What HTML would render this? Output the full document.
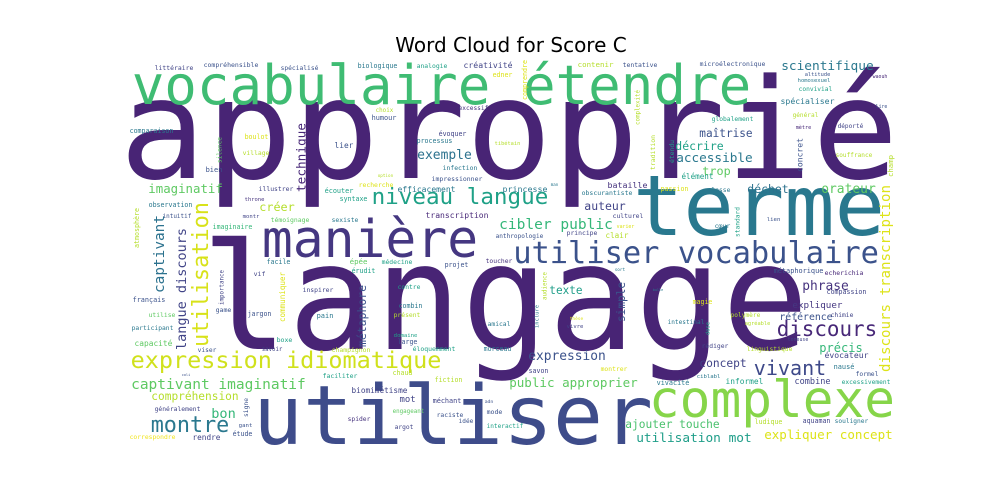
<!DOCTYPE html>
<html><head><meta charset="utf-8"><style>
html,body{margin:0;padding:0;background:#fff;width:1000px;height:500px;overflow:hidden}
svg{display:block}
</style></head><body>
<svg id="cloud" width="1000" height="500" viewBox="0 0 1000 500" xmlns="http://www.w3.org/2000/svg">
<rect width="1000" height="500" fill="#fff"/>
<text x="511" y="52" text-anchor="middle" font-family="DejaVu Sans, Liberation Sans, sans-serif" font-size="20" fill="#000">Word Cloud for Score C</text>
<g id="words" font-family="DejaVu Sans Mono, Liberation Mono, monospace"></g>
</svg>
<script>
// horizontal: [text, x1, x2, baseline, color, optional font size]
const hWords = [
["approprié",128,890,178,"#482475",139],
["langage",210,800,349,"#482475",148],
["utiliser",258,648,444,"#3e4c8a",82],
["vocabulaire étendre",135,748,104,"#3fbc73"],
["terme",638,880,235,"#29788e"],
["complexe",652,892,417,"#86d549"],
["manière",265,475,257,"#453781"],
["utiliser vocabulaire",515,877,263,"#3b528b"],
["niveau langue",373,547,204,"#1fa187"],
["expression idiomatique",132,440,368,"#d0e11c"],
["captivant imaginatif",132,305,389,"#5ec962"],
["compréhension",152,238,400,"#b5de2b"],
["montre",152,228,432,"#2a788e"],
["bon",212,235,418,"#35b779"],
["rendre",193,220,440,"#414487"],
["expression",529,605,360,"#3b528b"],
["public approprier",510,637,387,"#5ec962"],
["ajouter touche",626,719,428,"#4ac16d"],
["utilisation mot",637,751,442,"#1f9e89"],
["expliquer concept",765,892,439,"#dde318"],
["vivant",755,825,375,"#3e4989"],
["discours",778,876,336,"#482878"],
["précis",820,862,352,"#35b779"],
["concept",700,746,367,"#414487"],
["référence",780,832,320,"#3b528b"],
["expliquer",793,842,308,"#453781"],
["phrase",803,848,290,"#46337e"],
["texte",550,582,294,"#1f9e89"],
["exemple",418,471,159,"#2c728e"],
["imaginatif",149,222,193,"#5ec962"],
["créer",260,294,211,"#b5de2b"],
["cibler public",500,612,229,"#35b779"],
["auteur",585,625,210,"#414487"],
["accessible",677,752,162,"#2a788e"],
["scientifique",782,873,70,"#2a788e"],
["maîtrise",700,752,137,"#3b528b"],
["décrire",676,723,150,"#1fa187"],
["orateur",822,875,193,"#5ec962"],
["déchet",748,788,193,"#2c728e"],
["trop",703,730,175,"#5ec962"],
["spécialiser",781,834,104,"#2a788e"],
["littéraire",155,193,70,"#414487"],
["compréhensible",204,258,67,"#3b528b"],
["spécialisé",281,318,70,"#3b528b"],
["biologique",358,397,68,"#2a788e"],
["analogie",417,447,68,"#1fa187"],
["créativité",464,512,68,"#414487"],
["edner",493,512,77,"#dde318"],
["excessif",459,488,110,"#46337e"],
["choix",376,393,112,"#b5de2b"],
["humour",372,396,120,"#3b528b"],
["comparaison",130,173,133,"#2a788e"],
["boulot",245,268,139,"#dde318"],
["évoquer",439,466,136,"#414487"],
["processus",417,452,143,"#2a788e"],
["lier",335,353,148,"#3b528b"],
["village",243,269,155,"#b5de2b"],
["tibétain",495,520,145,"#b5de2b"],
["bien",206,222,172,"#3b528b"],
["infection",443,477,170,"#2a788e"],
["option",378,393,177,"#b5de2b"],
["impressionner",432,482,181,"#3b528b"],
["recherche",359,393,187,"#dde318"],
["illustrer",259,293,191,"#414487"],
["efficacement",398,455,192,"#2a788e"],
["écouter",325,353,193,"#1fa187"],
["throne",245,264,201,"#46337e"],
["syntaxe",340,367,201,"#1fa187"],
["observation",149,192,207,"#2a788e"],
["intuitif",163,191,218,"#3b528b"],
["montr",243,259,218,"#414487"],
["témoignage",271,309,222,"#5ec962"],
["sexiste",332,358,222,"#2a788e"],
["transcription",426,488,218,"#482878"],
["imaginaire",213,252,229,"#35b779"],
["princesse",503,547,192,"#2a788e"],
["man",551,558,186,"#2a788e"],
["obscurantiste",582,632,195,"#2a788e"],
["bataille",608,647,188,"#46337e"],
["passion",661,688,191,"#dde318"],
["élément",682,713,179,"#1fa187"],
["classe",708,730,192,"#2a788e"],
["culturel",613,643,218,"#414487"],
["varier",617,634,228,"#dde318"],
["principe",567,597,235,"#414487"],
["clair",606,628,238,"#b5de2b"],
["anthropologie",496,543,238,"#3b528b"],
["contenir",578,613,67,"#b5de2b"],
["tentative",623,657,67,"#3b528b"],
["microélectronique",700,765,66,"#3b528b"],
["altitude",805,830,76,"#3b528b"],
["homosexuel",798,830,82,"#2a788e"],
["convivial",799,832,91,"#1fa187"],
["waouh",873,887,78,"#482878"],
["lire",876,887,108,"#3b528b"],
["général",793,818,117,"#b5de2b"],
["globalement",712,753,121,"#1fa187"],
["mètre",796,811,129,"#482878"],
["déporté",838,863,128,"#414487"],
["souffrance",836,872,157,"#b5de2b"],
["cœur",715,730,228,"#2a788e"],
["lien",767,780,221,"#3b528b"],
["facile",267,290,264,"#2a788e"],
["épée",350,367,264,"#5ec962"],
["médecine",382,412,264,"#1fa187"],
["projet",445,468,267,"#3b528b"],
["toucher",486,512,263,"#46337e"],
["vif",254,265,276,"#414487"],
["érudit",352,375,273,"#1fa187"],
["inspirer",303,333,292,"#414487"],
["contre",398,420,289,"#1fa187"],
["français",133,165,302,"#3b528b"],
["game",216,231,312,"#3b528b"],
["jargon",248,271,316,"#3b528b"],
["pain",317,333,318,"#2a788e"],
["combin",399,422,308,"#2a788e"],
["présent",394,420,317,"#b5de2b"],
["utilise",149,175,317,"#5ec962"],
["participant",132,173,330,"#2a788e"],
["amical",488,510,326,"#2a788e"],
["boxe",277,292,342,"#1fa187"],
["domaine",394,417,337,"#1fa187"],
["capacité",135,172,346,"#5ec962"],
["viser",198,216,352,"#3b528b"],
["savoir",262,282,351,"#414487"],
["champignon",332,370,352,"#b5de2b"],
["large",398,417,344,"#3b528b"],
["éloquemment",413,455,351,"#1fa187"],
["morceau",484,511,351,"#2a788e"],
["coli",182,190,376,"#3b528b"],
["faciliter",323,357,378,"#1fa187"],
["chaud",393,412,375,"#b5de2b"],
["fiction",435,462,382,"#b5de2b"],
["biomimétisme",352,407,393,"#414487"],
["mot",400,415,402,"#414487"],
["méchant",433,461,403,"#414487"],
["adn",485,493,403,"#3b528b"],
["généralement",155,200,411,"#414487"],
["engageant",393,424,413,"#5ec962"],
["raciste",437,463,417,"#3b528b"],
["mode",487,502,414,"#3b528b"],
["gant",239,252,427,"#3b528b"],
["spider",348,370,421,"#46337e"],
["idée",459,473,423,"#3b528b"],
["argot",395,413,429,"#414487"],
["interactif",487,523,428,"#1fa187"],
["étude",233,252,436,"#3b528b"],
["correspondre",130,175,439,"#f1e51d"],
["sort",615,625,271,"#2a788e"],
["métaphorique",774,823,273,"#3b528b"],
["echerichia",825,863,275,"#482878"],
["bulle",653,663,291,"#2a788e"],
["compassion",827,866,294,"#414487"],
["magie",693,712,304,"#dde318"],
["polymère",731,760,317,"#b5de2b"],
["chimie",831,853,317,"#414487"],
["thèse",570,583,320,"#dde318"],
["vivre",567,583,328,"#414487"],
["intestinal",668,704,324,"#2a788e"],
["agréable",745,770,325,"#b5de2b"],
["toneuse",788,808,341,"#414487"],
["rédiger",702,728,348,"#414487"],
["linguistique",747,792,351,"#b5de2b"],
["évocateur",825,868,358,"#414487"],
["montrer",601,627,371,"#dde318"],
["savon",529,548,373,"#414487"],
["nausé",834,854,369,"#2a788e"],
["ciblabl",697,720,378,"#2a788e"],
["formel",856,878,376,"#3b528b"],
["informel",726,763,384,"#1fa187"],
["combine",795,830,384,"#414487"],
["vivacité",657,689,385,"#2a788e"],
["excessivement",842,890,384,"#1fa187"],
["ludique",755,782,424,"#b5de2b"],
["aquaman",803,830,423,"#414487"],
["souligner",835,868,423,"#2a788e"]
];
// vertical (reads bottom-to-top): [text, xCenter, yBottom, yTop, color]
const vWords = [
["langue discours",182,350,228,"#414487"],
["utilisation",202,347,202,"#d8e219"],
["captivant",160,293,215,"#2c728e"],
["technique",302,192,123,"#482878"],
["métaphore",363,347,285,"#3b528b"],
["simple",622,322,282,"#3b528b"],
["discours transcription",886,372,185,"#dde318"],
["silence",220,163,137,"#5ec962"],
["atmosphère",137,248,208,"#b5de2b"],
["comprendre",525,100,60,"#dde318"],
["complexité",638,125,90,"#b5de2b"],
["concret",800,172,138,"#3b528b"],
["étendu",672,163,140,"#1fa187"],
["tradition",653,170,135,"#b5de2b"],
["champ",891,177,155,"#b5de2b"],
["standard",738,237,207,"#1fa187"],
["importance",222,305,270,"#414487"],
["communiquer",283,322,272,"#dde318"],
["signe",246,417,398,"#3b528b"],
["audience",545,300,272,"#b5de2b"],
["inclure",537,328,305,"#2a788e"],
["dose",708,335,322,"#1fa187"]
];
const NS = "http://www.w3.org/2000/svg";
const g = document.getElementById("words");
hWords.forEach(w => {
  const [t,x1,x2,y,c,sz] = w;
  const n = t.length;
  const inkW = x2 - x1;
  const adv = inkW / (n - 0.2);
  const fs = sz ? sz : adv / 0.602;
  const el = document.createElementNS(NS,"text");
  
  
  el.setAttribute("x", (x1 - 0.1*adv).toFixed(1));
  el.setAttribute("y", y);
  el.setAttribute("font-size", fs.toFixed(2));
  el.setAttribute("fill", c);
  el.setAttribute("textLength", (adv*n).toFixed(1));
  el.setAttribute("lengthAdjust", "spacingAndGlyphs");
  el.textContent = t;
  g.appendChild(el);
});
vWords.forEach(w => {
  const [t,xc,yb,yt,c] = w;
  const len = yb-yt;
  const fs = len/(t.length*0.602);
  const bx = xc + fs*0.28;
  const el = document.createElementNS(NS,"text");
  
  
  el.setAttribute("x", 0);
  el.setAttribute("y", 0);
  el.setAttribute("transform", "translate(" + bx + "," + yb + ") rotate(-90)");
  el.setAttribute("font-size", fs.toFixed(2));
  el.setAttribute("fill", c);
  el.setAttribute("textLength", len);
  el.setAttribute("lengthAdjust", "spacingAndGlyphs");
  el.textContent = t;
  g.appendChild(el);
});
</script>
</body></html>
